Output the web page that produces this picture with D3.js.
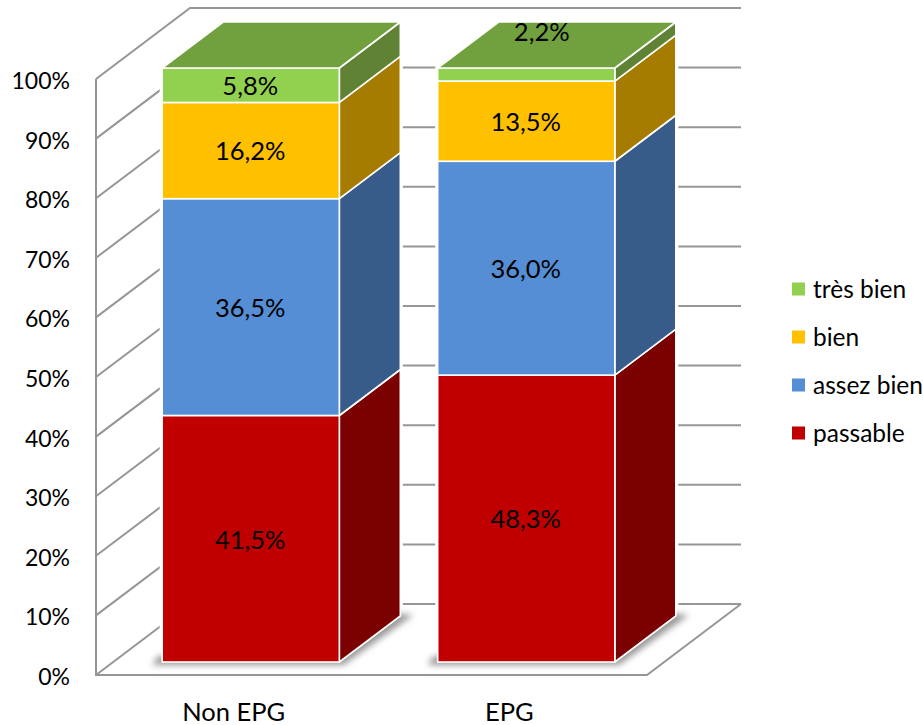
<!DOCTYPE html>
<html><head><meta charset="utf-8">
<script src="https://cdn.jsdelivr.net/npm/d3@7/dist/d3.min.js"></script>
<style>html,body{margin:0;padding:0;background:#fff}svg{display:block}text{font-family:Lato,"Open Sans",sans-serif;fill:#000}</style>
</head><body><div id="c"></div>
<script>
const categories = ["Non EPG", "EPG"];
const seriesNames = ["passable", "assez bien", "bien", "très bien"];
const passable = [41.5, 48.3];
const assezBien = [36.5, 36.0];
const bien = [16.2, 13.5];
const tresBien = [5.8, 2.2];
const valueLabels = [["41,5%","48,3%"],["36,5%","36,0%"],["16,2%","13,5%"],["5,8%","2,2%"]];
const yTicks = [0,10,20,30,40,50,60,70,80,90,100];
const frontColors = ["#C00000","#558ED5","#FFC000","#92D050"];
const sideColors = ["#7B0000","#375C8A","#A67C00","#5F8235"];
const topColor = "#71A13F";

const W=923,H=725;
const svg=d3.select("#c").append("svg").attr("width",W).attr("height",H);
const defs=svg.append("defs");
defs.append("filter").attr("id","sh").attr("x","-20%").attr("y","-20%").attr("width","140%").attr("height","140%")
  .append("feGaussianBlur").attr("stdDeviation",3);

// walls
const wallX0=96, wallX1=647, wallDx=94, wallDy=-71;
const yWall=d3.scaleLinear().domain([0,100]).range([675,79]);
const grid="#969696";
const g=svg.append("g").attr("fill","none").attr("stroke",grid).attr("stroke-width",2);
yTicks.forEach(t=>{
  const y=yWall(t);
  g.append("path").attr("d",`M${wallX0},${y}L${wallX0+wallDx},${y+wallDy}L${wallX1+wallDx},${y+wallDy}`);
});
g.append("path").attr("d",`M${wallX0},${yWall(100)}L${wallX0},${yWall(0)}L${wallX1},${yWall(0)}L${wallX1+wallDx},${yWall(0)+wallDy}`);

// bars
const x=d3.scaleBand().domain(categories).range([113,664]).paddingInner(0.357).paddingOuter(0.1785);
const barW=x.bandwidth();
const yBar=d3.scaleLinear().domain([0,100]).range([662,68]);
const dx=61, dy=-46;
const series=[passable,assezBien,bien,tresBien];
const stack=d3.stack().keys(d3.range(4)).value((d,k)=>series[k][d])(d3.range(categories.length));
const line=d3.line();

categories.forEach((c,i)=>{
  const bg=svg.append("g");
  const l=x(c), r=l+barW, yb=yBar(0), yt=yBar(100);
  // white halo separating the bar from grid lines
  bg.append("path").attr("d",line([[l,yb],[l,yt],[l+dx,yt+dy],[r+dx,yt+dy],[r+dx,yb+dy],[r,yb]])+"Z")
    .attr("fill","#fff").attr("stroke","#fff").attr("stroke-width",5);
  // floor shadow
  bg.append("path").attr("d",line([[l-10,yb+3],[r+4,yb+3],[r+dx+13,yb+dy-1],[r+dx-10,yb+dy-3],[r-8,yb-8],[l-4,yb-6]])+"Z")
    .attr("fill","#999").attr("filter","url(#sh)");
  stack.forEach((s,k)=>{
    const y0=yBar(s[i][0]), y1=yBar(s[i][1]);
    bg.append("path").attr("d",line([[r,y0],[r+dx,y0+dy],[r+dx,y1+dy],[r,y1]])+"Z")
      .attr("fill",sideColors[k]).attr("stroke","#fff").attr("stroke-width",1.6).attr("stroke-linejoin","round");
    bg.append("rect").attr("x",l).attr("y",y1).attr("width",barW).attr("height",y0-y1)
      .attr("fill",frontColors[k]).attr("stroke","#fff").attr("stroke-width",1.6);
  });
  bg.append("path").attr("d",line([[l,yt],[l+dx,yt+dy],[r+dx,yt+dy],[r,yt]])+"Z")
    .attr("fill",topColor).attr("stroke","#fff").attr("stroke-width",1.6).attr("stroke-linejoin","round");
});

// value labels
stack.forEach((s,k)=>{
  categories.forEach((c,i)=>{
    const small = series[k][i]<3;
    const cx = x(c)+barW/2 + (small?16:0) - 0.5;
    const cy = small ? 32 : (yBar(s[i][0])+yBar(s[i][1]))/2 + 1;
    svg.append("text").attr("x",cx).attr("y",cy).attr("dy","0.35em")
      .attr("text-anchor","middle").attr("font-size",25.5).text(valueLabels[k][i]);
  });
});

// y axis labels
yTicks.forEach(t=>{
  svg.append("text").attr("x",70).attr("y",yWall(t)+2).attr("dy","0.35em")
    .attr("text-anchor","end").attr("font-size",23).text(t+"%");
});
// category labels
categories.forEach(c=>{
  svg.append("text").attr("x",x(c)+barW/2-17).attr("y",712).attr("dy","0.35em")
    .attr("text-anchor","middle").attr("font-size",25.5).text(c);
});
// legend
const legendY=d3.scalePoint().domain(seriesNames.slice().reverse()).range([289,433]);
seriesNames.forEach((n,k)=>{
  const y=legendY(n);
  svg.append("rect").attr("x",792).attr("y",y-6.5).attr("width",13).attr("height",13).attr("fill",frontColors[k]);
  svg.append("text").attr("x",813).attr("y",y).attr("dy","0.35em").attr("font-size",24.5).text(n);
});
</script></body></html>
